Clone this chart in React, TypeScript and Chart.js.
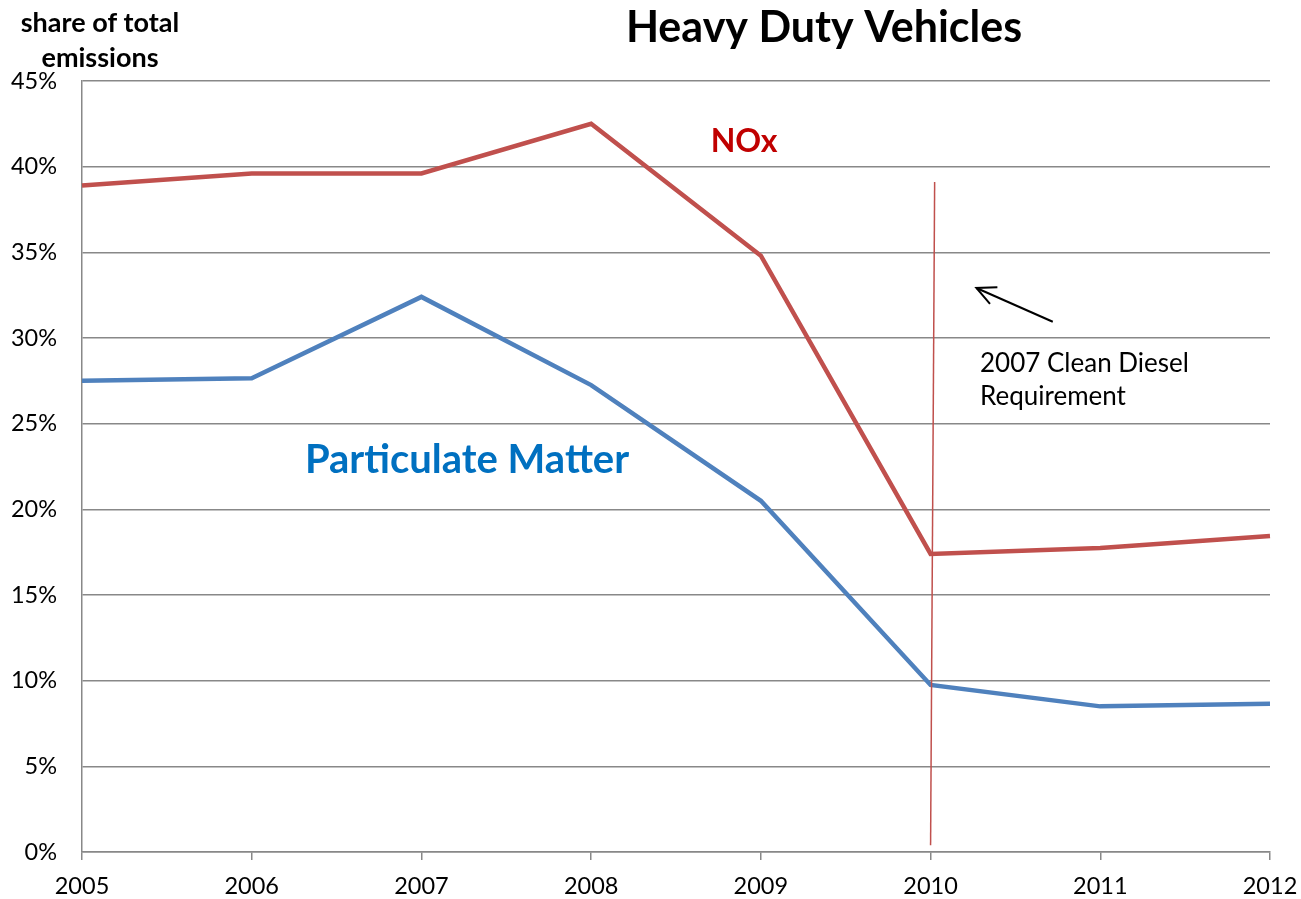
import React, { useEffect, useRef } from "react";
import { Chart, registerables } from "chart.js";

Chart.register(...registerables);

const years = ["2005", "2006", "2007", "2008", "2009", "2010", "2011", "2012"];
const noxValues = [38.9, 39.6, 39.6, 42.5, 34.8, 17.4, 17.75, 18.45];
const pmValues = [27.5, 27.65, 32.4, 27.25, 20.5, 9.75, 8.5, 8.65];
const yMin = 0;
const yMax = 45;
const yStep = 5;

const FONT = "Lato, 'Open Sans', sans-serif";

const overlayPlugin = {
  id: "overlay",
  afterDraw(chart: any) {
    const ctx = chart.ctx;
    const xs = chart.scales.x;
    const ys = chart.scales.y;
    ctx.save();
    // vertical red marker line at 2010
    ctx.strokeStyle = "#C0504D";
    ctx.lineWidth = 1.5;
    ctx.beginPath();
    ctx.moveTo(xs.getPixelForValue(5.024), ys.getPixelForValue(39.1));
    ctx.lineTo(xs.getPixelForValue(5.0), ys.getPixelForValue(0.4));
    ctx.stroke();

    // arrow
    const tx = xs.getPixelForValue(5.27);
    const ty = ys.getPixelForValue(32.92);
    const sx = xs.getPixelForValue(5.72);
    const sy = ys.getPixelForValue(30.95);
    ctx.strokeStyle = "#000";
    ctx.lineWidth = 2;
    ctx.beginPath();
    ctx.moveTo(sx, sy);
    ctx.lineTo(tx, ty);
    ctx.stroke();
    const ang = Math.atan2(sy - ty, sx - tx);
    const L = 21;
    ctx.beginPath();
    ctx.moveTo(tx + L * Math.cos(ang - 0.45), ty + L * Math.sin(ang - 0.45));
    ctx.lineTo(tx, ty);
    ctx.lineTo(tx + L * Math.cos(ang + 0.45), ty + L * Math.sin(ang + 0.45));
    ctx.stroke();

    ctx.fillStyle = "#000";
    ctx.textBaseline = "alphabetic";
    ctx.textAlign = "left";
    ctx.font = `26px ${FONT}`;
    ctx.fillText("2007 Clean Diesel", 980, 372);
    ctx.fillText("Requirement", 980, 405);

    // series labels
    ctx.textAlign = "center";
    ctx.textBaseline = "middle";
    ctx.fillStyle = "#C00000";
    ctx.font = `bold 32px ${FONT}`;
    ctx.fillText("NOx", 744, 142);
    ctx.fillStyle = "#0070C0";
    ctx.font = `bold 40px ${FONT}`;
    ctx.fillText("Particulate Matter", 467, 460);

    // title
    ctx.fillStyle = "#000";
    ctx.font = `bold 43px ${FONT}`;
    ctx.fillText("Heavy Duty Vehicles", 824, 28);

    // y axis title
    ctx.font = `bold 27px ${FONT}`;
    ctx.fillText("share of total", 100, 23);
    ctx.fillText("emissions", 100, 58);
    ctx.restore();
  },
};

export default function App() {
  const ref = useRef<HTMLCanvasElement | null>(null);
  useEffect(() => {
    if (!ref.current) return;
    const chart = new Chart(ref.current, {
      type: "line",
      data: {
        labels: years,
        datasets: [
          {
            label: "NOx",
            data: noxValues,
            borderColor: "#C0504D",
            borderWidth: 4.5,
            pointRadius: 0,
            tension: 0,
            fill: false,
          },
          {
            label: "Particulate Matter",
            data: pmValues,
            borderColor: "#4F81BD",
            borderWidth: 4.5,
            pointRadius: 0,
            tension: 0,
            fill: false,
          },
        ],
      },
      options: {
        animation: false,
        responsive: false,
        maintainAspectRatio: false,
        layout: { padding: { top: 81, right: 31, left: 0, bottom: 0 } },
        plugins: {
          legend: { display: false },
          title: { display: false },
          tooltip: { enabled: false },
        },
        scales: {
          x: {
            type: "category",
            offset: false,
            grid: {
              drawOnChartArea: false,
              drawTicks: true,
              tickLength: 8,
              color: "#888888",
              lineWidth: 1.5,
            },
            border: { display: true, color: "#888888", width: 1.5 },
            ticks: {
              color: "#000",
              font: { family: FONT, size: 23.5 },
              padding: 12,
              maxRotation: 0,
              autoSkip: false,
            },
            afterFit(scale: any) {
              scale.height = 47;
              scale.paddingLeft = 0;
              scale.paddingRight = 0;
            },
          },
          y: {
            min: yMin,
            max: yMax,
            grid: {
              color: "#888888",
              lineWidth: 1.5,
              drawTicks: false,
            },
            border: { display: true, color: "#888888", width: 1.5 },
            ticks: {
              stepSize: yStep,
              color: "#000",
              font: { family: FONT, size: 23.5 },
              padding: 25,
              callback: (v: any) => `${v}%`,
            },
            afterFit(scale: any) {
              scale.width = 82;
              scale.paddingTop = 0;
              scale.paddingBottom = 0;
            },
          },
        },
      },
      plugins: [overlayPlugin],
    });
    return () => chart.destroy();
  }, []);
  return (
    <div style={{ position: "absolute", left: 0, top: 0, width: 1301, height: 899, background: "#fff" }}>
      <canvas ref={ref} width={1301} height={899} style={{ width: 1301, height: 899 }} />
    </div>
  );
}
